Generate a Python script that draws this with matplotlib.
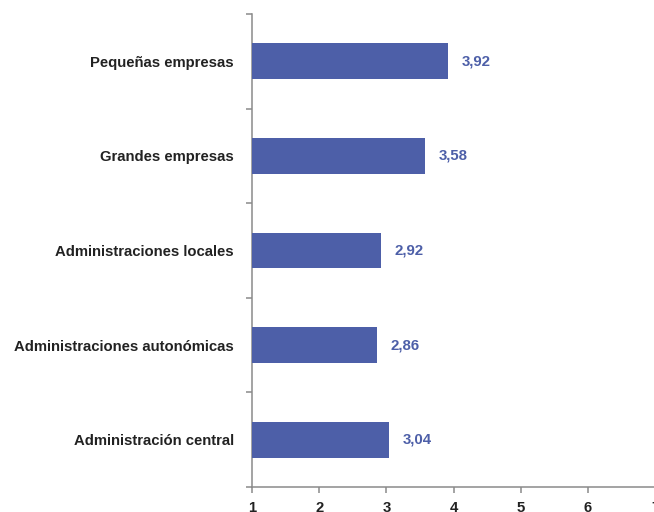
import matplotlib
matplotlib.use("Agg")
import matplotlib.pyplot as plt
import numpy as np

categories = ["Administración central", "Administraciones autonómicas",
              "Administraciones locales", "Grandes empresas", "Pequeñas empresas"]
values = [3.04, 2.86, 2.92, 3.58, 3.92]
value_labels = ["3,04", "2,86", "2,92", "3,58", "3,92"]
xticks = [1, 2, 3, 4, 5, 6, 7]

bar_color = "#4d5fa8"
spine_color = "#8a8a8a"
text_color = "#222222"
plt.rcParams["font.family"] = ["Liberation Sans", "DejaVu Sans"]

fig = plt.figure(figsize=(6.54, 5.12), dpi=100)
ax = fig.add_axes([252/654, 1-487/512, (655-252)/654, (487-14)/512])

y = np.arange(len(categories))
ax.barh(y, [v - 1 for v in values], left=1, height=0.38, color=bar_color, zorder=3)
for yi, v, lab in zip(y, values, value_labels):
    ax.annotate(lab, (v, yi), xytext=(10, 0), textcoords="offset points",
                ha="left", va="center", color=bar_color, fontsize=10.8, fontweight="bold")

ax.set_xlim(1, 7)
ax.set_ylim(-0.5, len(categories) - 0.5)
ax.set_xticks(xticks)
ax.set_xticklabels([str(t) for t in xticks], fontsize=10.7, fontweight="bold", color=text_color)
ax.set_yticks(y)
ax.set_yticklabels(categories, fontsize=10.7, fontweight="bold", color=text_color)
ax.set_yticks(np.arange(-0.5, len(categories)), minor=True)
ax.tick_params(axis="y", which="major", length=0, pad=13)
ax.tick_params(axis="y", which="minor", length=4.5, width=1.1, color=spine_color, direction="out")
ax.tick_params(axis="x", which="major", length=4, width=1.1, color=spine_color, pad=6)

for s in ["top", "right"]:
    ax.spines[s].set_visible(False)
for s in ["left", "bottom"]:
    ax.spines[s].set_color(spine_color)
    ax.spines[s].set_linewidth(1.1)

fig.savefig("out.png", dpi=100)
